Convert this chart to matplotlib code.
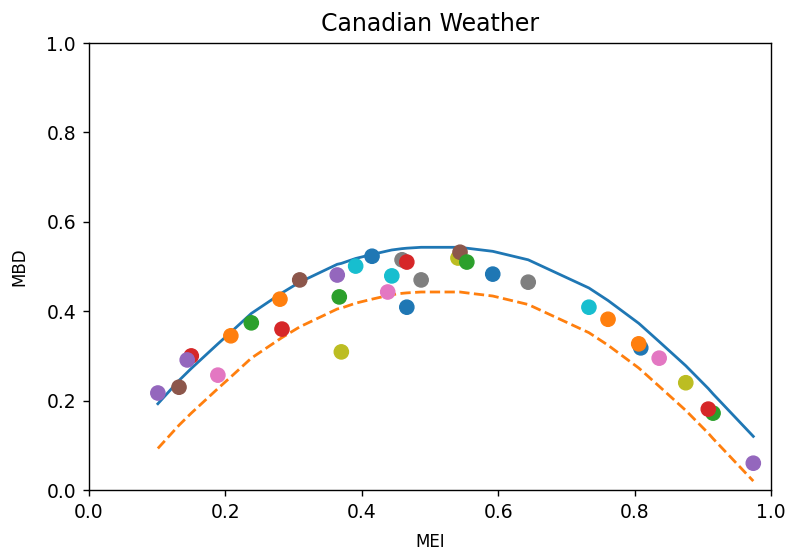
import numpy as np
import matplotlib.pyplot as plt

# station points (MEI, MBD), in drawing order
mei = [0.101, 0.132, 0.150, 0.144, 0.189, 0.208, 0.238, 0.283, 0.280, 0.309,
       0.364, 0.367, 0.370, 0.391, 0.415, 0.438, 0.444, 0.487, 0.459, 0.466,
       0.466, 0.541, 0.544, 0.554, 0.592, 0.644, 0.733, 0.761, 0.809, 0.806,
       0.836, 0.875, 0.915, 0.908, 0.974]
mbd = [0.217, 0.230, 0.300, 0.291, 0.257, 0.345, 0.374, 0.360, 0.427, 0.470,
       0.481, 0.432, 0.309, 0.501, 0.523, 0.443, 0.479, 0.470, 0.515, 0.510,
       0.409, 0.519, 0.532, 0.510, 0.483, 0.465, 0.409, 0.382, 0.318, 0.327,
       0.295, 0.240, 0.172, 0.181, 0.060]
colour_idx = [4, 5, 3, 4, 6, 1, 2, 3, 1, 5,
              4, 2, 8, 9, 0, 6, 9, 7, 7, 3,
              0, 8, 5, 2, 0, 7, 9, 1, 0, 1,
              6, 8, 2, 3, 4]

# curves evaluated at the sorted MEI values
curve_x = [0.101, 0.132, 0.144, 0.150, 0.189, 0.208, 0.238, 0.280, 0.283, 0.309,
           0.364, 0.367, 0.370, 0.391, 0.415, 0.438, 0.444, 0.459, 0.466, 0.466,
           0.487, 0.541, 0.544, 0.554, 0.592, 0.644, 0.733, 0.761, 0.806, 0.809,
           0.836, 0.875, 0.908, 0.915, 0.974]
upper = [0.193, 0.245, 0.263, 0.272, 0.327, 0.353, 0.395, 0.438, 0.441, 0.465,
         0.505, 0.506, 0.507, 0.518, 0.527, 0.535, 0.537, 0.540, 0.541, 0.541,
         0.543, 0.543, 0.543, 0.541, 0.534, 0.515, 0.452, 0.424, 0.373, 0.369,
         0.332, 0.278, 0.227, 0.215, 0.120]
lower = [0.093, 0.145, 0.163, 0.172, 0.227, 0.253, 0.295, 0.338, 0.341, 0.365,
         0.405, 0.406, 0.407, 0.418, 0.427, 0.435, 0.437, 0.440, 0.441, 0.441,
         0.443, 0.443, 0.443, 0.441, 0.434, 0.415, 0.352, 0.324, 0.273, 0.269,
         0.232, 0.178, 0.127, 0.115, 0.020]

fig = plt.figure(figsize=(7.93, 5.53), dpi=100)
ax = fig.add_axes([0.1122, 0.1139, 0.8601, 0.8083])

cols = ['C%d' % i for i in colour_idx]
ax.scatter(mei, mbd, c=cols, s=105, zorder=3)
ax.plot(curve_x, upper, color='C0', linewidth=2.0)
ax.plot(curve_x, lower, color='C1', linestyle='--', linewidth=2.0)

ax.set_xlim(0, 1)
ax.set_ylim(0, 1)
ax.tick_params(labelsize=13.5, length=4.3, width=1.0, pad=5)
for s in ax.spines.values():
    s.set_linewidth(1.0)
ax.set_xlabel('MEI', fontsize=12, labelpad=8)
ax.set_ylabel('MBD', fontsize=12, labelpad=13)
ax.set_title('Canadian Weather', fontsize=17, pad=9)

fig.savefig('out.png', dpi=100)
